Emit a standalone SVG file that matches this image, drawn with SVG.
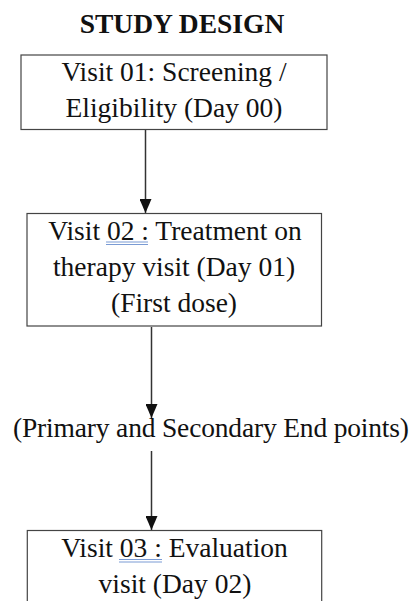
<svg xmlns="http://www.w3.org/2000/svg" width="420" height="601" viewBox="0 0 420 601">
<style>
  .t { font-family: "Liberation Serif", "Times New Roman", serif; font-size: 27.5px; fill: #111; }
  .title { font-weight: bold; }
  .box { fill: #fff; stroke: #444; stroke-width: 1.2; }
  .conn { stroke: #333; stroke-width: 1.5; fill: none; }
  .ul { stroke: #7a9bd4; stroke-width: 1; }
</style>
<defs>
  <marker id="arr" viewBox="0 0 14 12" refX="14" refY="6" markerWidth="14" markerHeight="12" markerUnits="userSpaceOnUse" orient="auto">
    <path d="M0,0 L14,6 L0,12 Z" fill="#111"/>
  </marker>
</defs>
<rect width="420" height="601" fill="#fff"/>
<text class="t title" x="182" y="32.5" text-anchor="middle">STUDY DESIGN</text>
<g id="connectors">
  <line class="conn" x1="145.5" y1="130" x2="145.5" y2="213" marker-end="url(#arr)"/>
  <line class="conn" x1="151.5" y1="327" x2="151.5" y2="418" marker-end="url(#arr)"/>
  <line class="conn" x1="151.5" y1="451" x2="151.5" y2="530" marker-end="url(#arr)"/>
</g>
<g id="visit01">
  <rect class="box" x="21" y="55" width="306" height="74.5"/>
  <text class="t" x="174" y="80.7" text-anchor="middle">Visit 01: Screening /</text>
  <text class="t" x="174" y="116.7" text-anchor="middle">Eligibility (Day 00)</text>
</g>
<g id="visit02">
  <rect class="box" x="27" y="213.5" width="294.5" height="112.5"/>
  <text class="t" x="175" y="239.5" text-anchor="middle">Visit 02 : Treatment on</text>
  <line class="ul" x1="106" y1="242" x2="148" y2="242"/>
  <line class="ul" x1="106" y1="244.5" x2="148" y2="244.5"/>
  <text class="t" x="174" y="276" text-anchor="middle">therapy visit (Day 01)</text>
  <text class="t" x="174" y="312" text-anchor="middle">(First dose)</text>
</g>
<g id="endpoints">
  <text class="t" x="211" y="437" text-anchor="middle" textLength="396">(Primary and Secondary End points)</text>
</g>
<g id="visit03">
  <rect class="box" x="27.3" y="530.5" width="294.4" height="80"/>
  <text class="t" x="174.5" y="556.7" text-anchor="middle">Visit 03 : Evaluation</text>
  <line class="ul" x1="119" y1="559.5" x2="162" y2="559.5"/>
  <line class="ul" x1="119" y1="562" x2="162" y2="562"/>
  <text class="t" x="175" y="593" text-anchor="middle">visit (Day 02)</text>
</g>
</svg>
